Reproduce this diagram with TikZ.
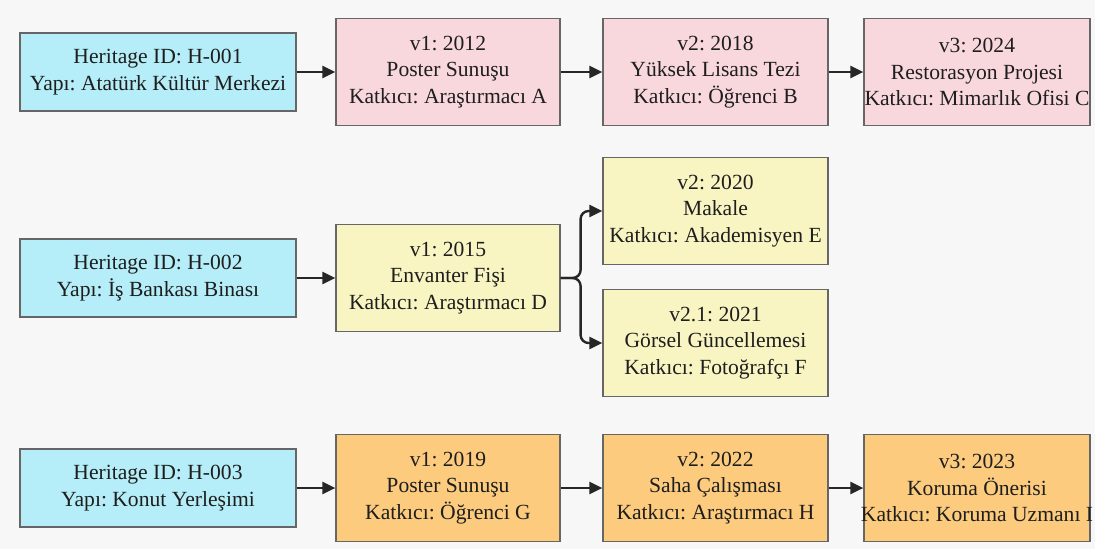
\documentclass[tikz,border=0pt]{standalone}
\usepackage{fontspec}
\setmainfont{Liberation Serif}
\usetikzlibrary{arrows.meta}
\definecolor{bg}{HTML}{F7F7F7}
\definecolor{herit}{HTML}{B5EEF8}
\definecolor{pinkc}{HTML}{F8D8DD}
\definecolor{yelc}{HTML}{F8F5C2}
\definecolor{orac}{HTML}{FCCB7E}
\definecolor{edgec}{HTML}{666666}
\definecolor{ink}{HTML}{1E1E1E}
\definecolor{arr}{HTML}{262626}
\frenchspacing
\newcommand{\fitline}[1]{\makebox[220pt]{#1}}
\begin{document}
\begin{tikzpicture}[x=1pt,y=-1pt,
  box/.style={draw=edgec, line width=1.2pt, text=ink, align=center, inner sep=0pt,
    font=\fontsize{21.6}{26.5}\selectfont},
  herbox/.style={box, fill=herit, minimum width=276pt, minimum height=78pt},
  verbox/.style={box, minimum height=107pt},
  colA/.style={verbox, minimum width=224pt},
  colB/.style={verbox, minimum width=225pt},
  colC/.style={verbox, minimum width=226pt},
  link/.style={draw=arr, line width=2.4pt, -{Triangle[length=13pt,width=12pt]}}]
\fill[bg] (0,0) rectangle (1095,549);
\useasboundingbox (0,0) rectangle (1095,549);

% Row 1
\node[herbox] (h1) at (158,72) {Heritage ID: H-001\\Yapı: Atatürk Kültür Merkezi};
\node[colA, fill=pinkc] (a1) at (448,72) {v1: 2012\\Poster Sunuşu\\Katkıcı: Araştırmacı A};
\node[colB, fill=pinkc] (a2) at (715.5,72) {v2: 2018\\Yüksek Lisans Tezi\\Katkıcı: Öğrenci B};
\node[colC, fill=pinkc] (a3) at (977,72) {v3: 2024\\Restorasyon Projesi\\\fitline{Katkıcı: Mimarlık Ofisi C}};

% Row 2
\node[herbox] (h2) at (158,278) {Heritage ID: H-002\\Yapı: İş Bankası Binası};
\node[colA, fill=yelc] (b1) at (448,278) {v1: 2015\\Envanter Fişi\\Katkıcı: Araştırmacı D};
\node[colB, fill=yelc] (b2) at (715.5,211) {v2: 2020\\Makale\\Katkıcı: Akademisyen E};
\node[colB, fill=yelc] (b3) at (715.5,343) {v2.1: 2021\\Görsel Güncellemesi\\Katkıcı: Fotoğrafçı F};

% Row 3
\node[herbox] (h3) at (158,488) {Heritage ID: H-003\\Yapı: Konut Yerleşimi};
\node[colA, fill=orac] (c1) at (448,488) {v1: 2019\\Poster Sunuşu\\Katkıcı: Öğrenci G};
\node[colB, fill=orac] (c2) at (715.5,488) {v2: 2022\\Saha Çalışması\\Katkıcı: Araştırmacı H};
\node[colC, fill=orac] (c3) at (977,488) {v3: 2023\\Koruma Önerisi\\\fitline{Katkıcı: Koruma Uzmanı I}};

% Connectors
\draw[link] (h1) -- (a1);
\draw[link] (a1) -- (a2);
\draw[link] (a2) -- (a3);
\draw[link] (h2) -- (b1);
\draw[link, rounded corners=8pt] (b1.east) -- ++(20,0) |- (b2.west);
\draw[link, rounded corners=8pt] (b1.east) -- ++(20,0) |- (b3.west);
\draw[link] (h3) -- (c1);
\draw[link] (c1) -- (c2);
\draw[link] (c2) -- (c3);
\end{tikzpicture}
\end{document}
